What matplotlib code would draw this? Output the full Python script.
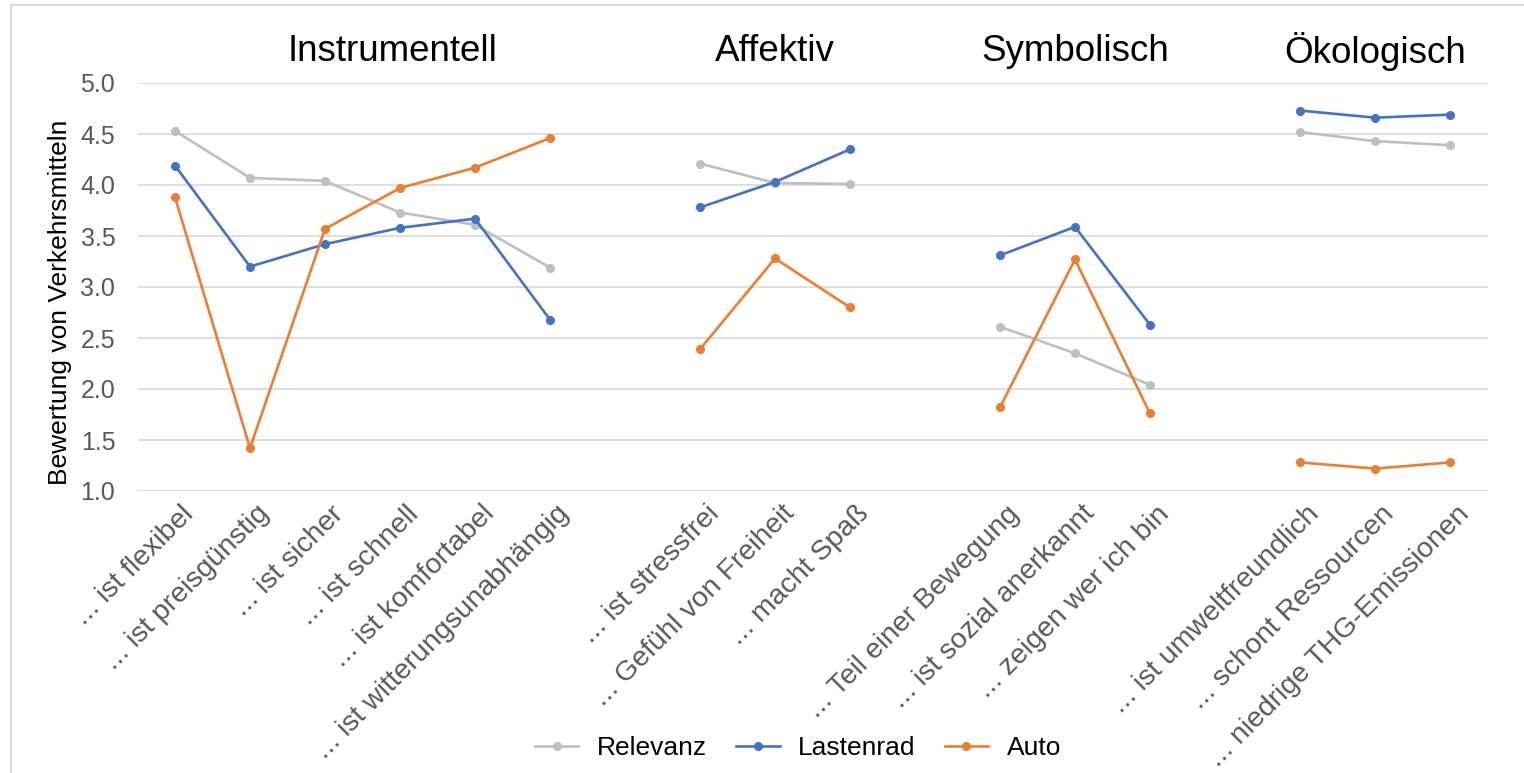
import numpy as np
import matplotlib.pyplot as plt
import matplotlib.transforms as mtransforms

plt.rcParams['font.family'] = ['Liberation Sans', 'DejaVu Sans']

# Kategorien je Gruppe
gruppen = ["Instrumentell", "Affektiv", "Symbolisch", "Ökologisch"]
kategorien = [
    ["... ist flexibel", "... ist preisgünstig", "... ist sicher", "... ist schnell",
     "... ist komfortabel", "... ist witterungsunabhängig"],
    ["... ist stressfrei", "... Gefühl von Freiheit", "... macht Spaß"],
    ["... Teil einer Bewegung", "... ist sozial anerkannt", "... zeigen wer ich bin"],
    ["... ist umweltfreundlich", "... schont Ressourcen", "... niedrige THG-Emissionen"],
]

# Werte je Gruppe
relevanz = [
    [4.53, 4.07, 4.04, 3.73, 3.61, 3.19],
    [4.21, 4.02, 4.01],
    [2.61, 2.35, 2.04],
    [4.52, 4.43, 4.39],
]
lastenrad = [
    [4.19, 3.20, 3.42, 3.58, 3.67, 2.68],
    [3.78, 4.03, 4.35],
    [3.31, 3.59, 2.63],
    [4.73, 4.66, 4.69],
]
auto = [
    [3.88, 1.42, 3.57, 3.97, 4.17, 4.46],
    [2.39, 3.28, 2.80],
    [1.82, 3.27, 1.76],
    [1.28, 1.22, 1.28],
]


def mit_luecken(gruppenwerte):
    # zwischen den Gruppen bleibt eine leere Kategorie
    out = []
    for i, g in enumerate(gruppenwerte):
        if i > 0:
            out.append(np.nan)
        out.extend(g)
    return np.array(out, dtype=float)


labels = []
for i, g in enumerate(kategorien):
    if i > 0:
        labels.append("")
    labels.extend(g)
x = np.arange(len(labels))

fig = plt.figure(figsize=(15.24, 7.73), dpi=100)
ax = fig.add_axes([137.5 / 1524, 1 - 491 / 773, 1350 / 1524, 408 / 773])

serien = [("Relevanz", relevanz, "#BFBFBF"),
          ("Lastenrad", lastenrad, "#4472C4"),
          ("Auto", auto, "#ED7D31")]
for name, werte, farbe in serien:
    ax.plot(x, mit_luecken(werte), color=farbe, lw=1.9, marker="o", ms=5.5, label=name)

ax.set_xlim(-0.5, len(labels) - 0.5)
ax.set_ylim(1.0, 5.0)
ax.set_yticks(np.arange(1.0, 5.01, 0.5))
ax.set_yticklabels([f"{v:.1f}" for v in np.arange(1.0, 5.01, 0.5)])
ax.grid(axis="y", color="#D9D9D9", lw=1.2)
ax.set_axisbelow(True)
for s in ax.spines.values():
    s.set_visible(False)
ax.tick_params(axis="y", length=0, labelsize=18, labelcolor="#595959", pad=16)
ax.tick_params(axis="x", length=0, pad=7)

ax.set_xticks(x)
ax.set_xticklabels(labels, rotation=45, ha="right", va="top",
                   rotation_mode="anchor", fontsize=20.5, color="#595959")
versatz = mtransforms.ScaledTranslation(6 / 100, 0, fig.dpi_scale_trans)
for lab in ax.get_xticklabels():
    lab.set_transform(lab.get_transform() + versatz)

ax.set_ylabel("Bewertung von Verkehrsmitteln", fontsize=19, color="black")
ax.yaxis.set_label_coords((72 - 137.5) / 1350, (491 - 302) / 408)

# Gruppentitel
start = 0
for name, g in zip(gruppen, kategorien):
    mitte = start + (len(g) - 1) / 2
    if name == "Instrumentell":
        mitte += 0.4
    ax.text(mitte, 1.076, name, transform=ax.get_xaxis_transform(),
            ha="center", va="center", fontsize=26.5, color="black")
    start += len(g) + 1

fig.legend(loc="center", bbox_to_anchor=(798 / 1524, 1 - 748 / 773), ncol=3,
           frameon=False, fontsize=19, handlelength=1.65, handletextpad=0.7,
           columnspacing=1.1)

# Rahmen des Diagrammbereichs
fig.add_artist(plt.Line2D([11 / 1524, 1], [1 - 5 / 773, 1 - 5 / 773], color="#D9D9D9", lw=1.5))
fig.add_artist(plt.Line2D([11 / 1524, 11 / 1524], [0, 1 - 5 / 773], color="#D9D9D9", lw=1.5))

fig.savefig("out.png", dpi=100)
